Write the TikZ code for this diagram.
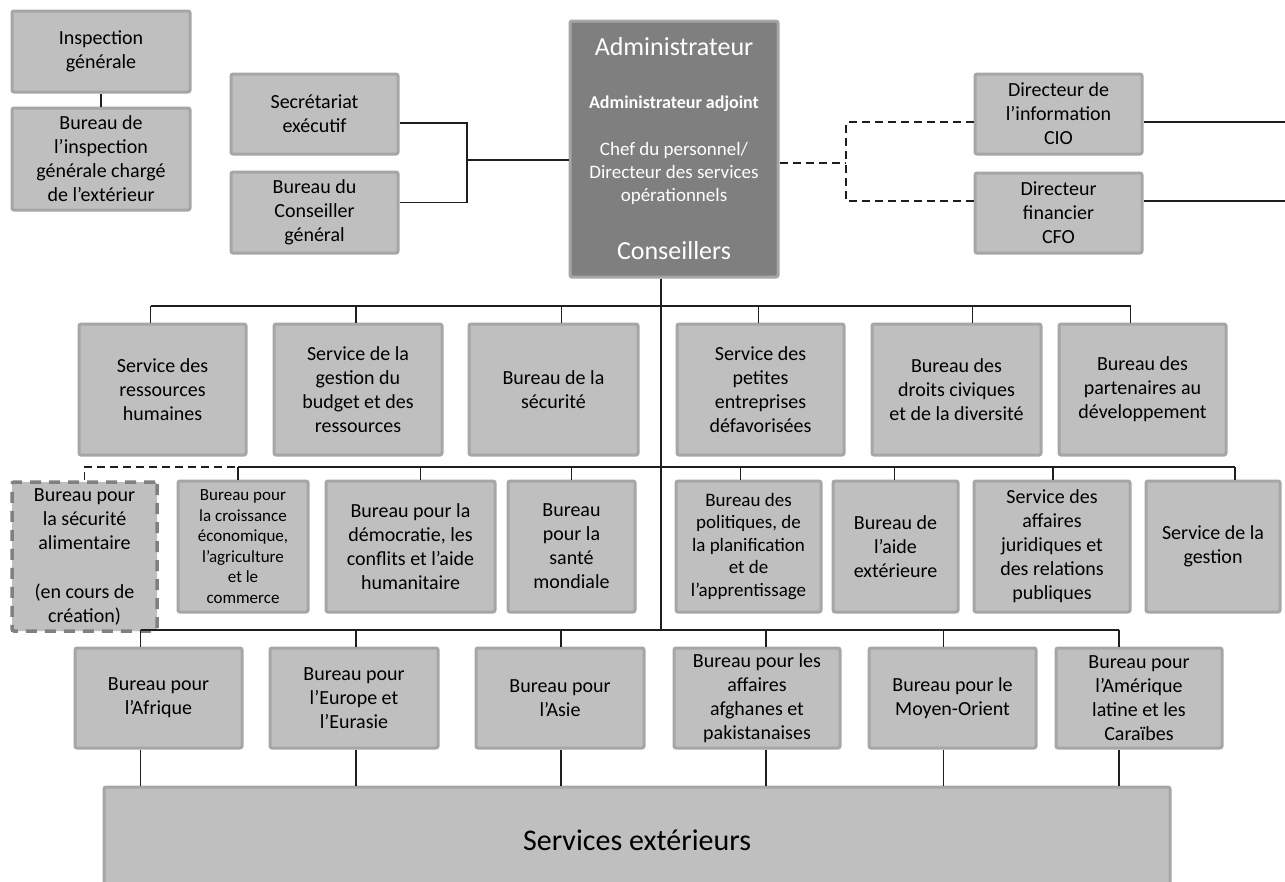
\documentclass[tikz,border=0pt]{standalone}
\usepackage{fontspec}
\setmainfont{Carlito}
\usetikzlibrary{positioning,calc}
\definecolor{boxgray}{RGB}{191,191,191}
\definecolor{framegray}{RGB}{166,166,166}
\definecolor{chiefgray}{RGB}{127,127,127}
\definecolor{dashgray}{RGB}{128,128,128}
\definecolor{wiregray}{RGB}{30,30,30}

\begin{document}
\begin{tikzpicture}[
    x=1pt, y=-1pt,
    box/.style={draw=framegray, line width=3pt, fill=boxgray, rounded corners=2pt, align=center, inner sep=0pt, font=\fontsize{20}{24}\selectfont},
    sz/.style 2 args={minimum width=#1pt, minimum height=#2pt},
    newbox/.style={box, draw=dashgray, line width=3.5pt, dash pattern=on 11pt off 8pt},
    chiefbox/.style={box, fill=chiefgray},
    chieftxt/.style={text=white, align=center, inner sep=0pt},
    link/.style={line width=1.1pt, wiregray},
    dlink/.style={link, dash pattern=on 8pt off 5pt}
]
    \useasboundingbox (0,0) rectangle (1285,881);
    \fill[white] (0,0) rectangle (1285,881);

    % Top boxes
    \node[box, sz={178}{81}] (insp) at (101,51.5) {Inspection\\générale};
    \node[box, sz={178}{102}] (oig) at (101,159) {Bureau de\\l’inspection\\générale chargé\\de l’extérieur};
    \node[box, sz={167}{80}] (secr) at (314.5,114) {Secrétariat\\exécutif};
    \node[box, sz={167}{81}] (cons) at (314.5,212.5) {Bureau du\\Conseiller\\général};
    \node[chiefbox, sz={208}{256}] (admin) at (674,149) {};
    \node[box, sz={167}{80}] (cio) at (1058.5,114) {Directeur de\\l’information\\CIO};
    \node[box, sz={167}{80}] (cfo) at (1058.5,213) {Directeur\\financier\\CFO};

    % Administrator texts
    \node[chieftxt, font=\fontsize{26}{30}\selectfont] (admname) at ([yshift=-27pt]admin.north) {Administrateur};
    \node[chieftxt, font=\bfseries\fontsize{18}{21}\selectfont] (admdep) at ([yshift=-84pt]admin.north) {Administrateur adjoint};
    \node[chieftxt, font=\fontsize{19}{23}\selectfont] (admcos) at ([yshift=-154pt]admin.north) {Chef du personnel/\\Directeur des services\\opérationnels};
    \node[chieftxt, font=\fontsize{26}{30}\selectfont] (admcons) at ([yshift=-231pt]admin.north) {Conseillers};

    % Row 1
    \node[box, sz={167}{131}] (hr) at (162.5,389.5) {Service des\\ressources\\humaines};
    \node[box, sz={168}{131}] (budget) at (358,389.5) {Service de la\\gestion du\\budget et des\\ressources};
    \node[box, sz={169}{131}] (secu) at (553.5,389.5) {Bureau de la\\sécurité};
    \node[box, sz={167}{131}] (pme) at (760.5,389.5) {Service des\\petites\\entreprises\\défavorisées};
    \node[box, sz={169}{131}] (civ) at (956.5,389.5) {Bureau des\\droits civiques\\et de la diversité};
    \node[box, sz={167}{131}] (part) at (1142.5,389.5) {Bureau des\\partenaires au\\développement};

    % Row 2
    \node[newbox, sz={145}{149}] (food) at (84.5,556.5) {Bureau pour\\la sécurité\\alimentaire\\[25pt](en cours de\\création)};
    \node[box, sz={130}{131}, font=\fontsize{17}{20.5}\selectfont] (croiss) at (243,546.5) {Bureau pour\\la croissance\\économique,\\l’agriculture\\et le\\commerce};
    \node[box, sz={169}{131}] (demo) at (410.5,546.5) {Bureau pour la\\démocratie, les\\conflits et l’aide\\humanitaire};
    \node[box, sz={127}{131}] (sante) at (571.5,546.5) {Bureau\\pour la\\santé\\mondiale};
    \node[box, sz={145}{131}, font=\fontsize{19}{22.5}\selectfont] (polit) at (748.5,546.5) {Bureau des\\politiques, de\\la planification\\et de\\l’apprentissage};
    \node[box, sz={125}{131}] (aide) at (895.5,546.5) {Bureau de\\l’aide\\extérieure};
    \node[box, sz={156}{131}] (jur) at (1052,546.5) {Service des\\affaires\\juridiques et\\des relations\\publiques};
    \node[box, sz={134}{131}] (gest) at (1213,546.5) {Service de la\\gestion};

    % Row 3
    \node[box, sz={167}{100}] (afr) at (158.5,698) {Bureau pour\\l’Afrique};
    \node[box, sz={168}{100}] (eur) at (354,698) {Bureau pour\\l’Europe et\\l’Eurasie};
    \node[box, sz={168}{100}] (asie) at (560,698) {Bureau pour\\l’Asie};
    \node[box, sz={166}{100}] (afg) at (757,698) {Bureau pour les\\affaires\\afghanes et\\pakistanaises};
    \node[box, sz={167}{100}] (mo) at (952.5,698) {Bureau pour le\\Moyen-Orient};
    \node[box, sz={166}{100}] (am) at (1139,698) {Bureau pour\\l’Amérique\\latine et les\\Caraïbes};
    \node[box, sz={1066}{106}, font=\fontsize{30}{34}\selectfont] (field) at (637,840) {Services extérieurs};

    % Junctions
    \coordinate (jl) at (467,160);
    \coordinate (jr) at (846,0);
    \coordinate (spine) at (661,0);
    \coordinate (rim) at (1285,0);
    \coordinate (bus1) at (0,306);
    \coordinate (bus2) at (0,467);
    \coordinate (bus3) at (0,630);
    \coordinate (secr-out) at ([yshift=-9pt]secr.east);
    \coordinate (cons-out) at ([yshift=10pt]cons.east);
    \coordinate (admin-out) at ([yshift=-14pt]admin.east);
    \coordinate (cio-in) at ([yshift=-8pt]cio.west);
    \coordinate (cfo-in) at ([yshift=12pt]cfo.west);

    % Links
    \draw[link] (insp) -- (oig);
    \draw[link] (secr-out) -| (jl);
    \draw[link] (cons-out) -| (jl);
    \draw[link] (jl) -- (jl -| admin.west);
    \draw[dlink] (admin-out) -- (admin-out -| jr);
    \draw[dlink] (cio-in) -| (jr |- admin-out);
    \draw[dlink] (cfo-in) -| (jr |- admin-out);
    \draw[link] (cio-in -| cio.east) -- (cio-in -| rim);
    \draw[link] (cfo-in -| cfo.east) -- (cfo-in -| rim);
    \draw[link] (admin.south -| spine) -- (spine |- bus3);

    \foreach \n/\d in {hr/-12pt, budget/-2pt, secu/8pt, pme/-2pt, civ/16pt, part/-12pt} {
        \coordinate (\n-up) at ([xshift=\d]\n.north);
        \draw[link] (\n-up) -- (\n-up |- bus1);
    }
    \draw[link] (hr-up |- bus1) -- (part-up |- bus1);

    \foreach \n/\d in {croiss/-5pt, demo/10pt, sante/0pt, polit/-8pt, aide/-1pt, jur/1pt, gest/22pt} {
        \coordinate (\n-up) at ([xshift=\d]\n.north);
        \draw[link] (\n-up) -- (\n-up |- bus2);
    }
    \draw[dlink] (food.north) -- (food.north |- bus2) -- (croiss-up |- bus2);
    \draw[link] (croiss-up |- bus2) -- (gest-up |- bus2);

    \foreach \n/\d in {afr/-18pt, eur/2pt, asie/1pt, afg/9pt, mo/-9pt, am/-20pt} {
        \coordinate (\n-up) at ([xshift=\d]\n.north);
        \coordinate (\n-down) at ([xshift=\d]\n.south);
        \draw[link] (\n-up) -- (\n-up |- bus3);
        \draw[link] (\n-down) -- (\n-down |- field.north);
    }
    \draw[link] (afr-up |- bus3) -- (am-up |- bus3);
\end{tikzpicture}
\end{document}
